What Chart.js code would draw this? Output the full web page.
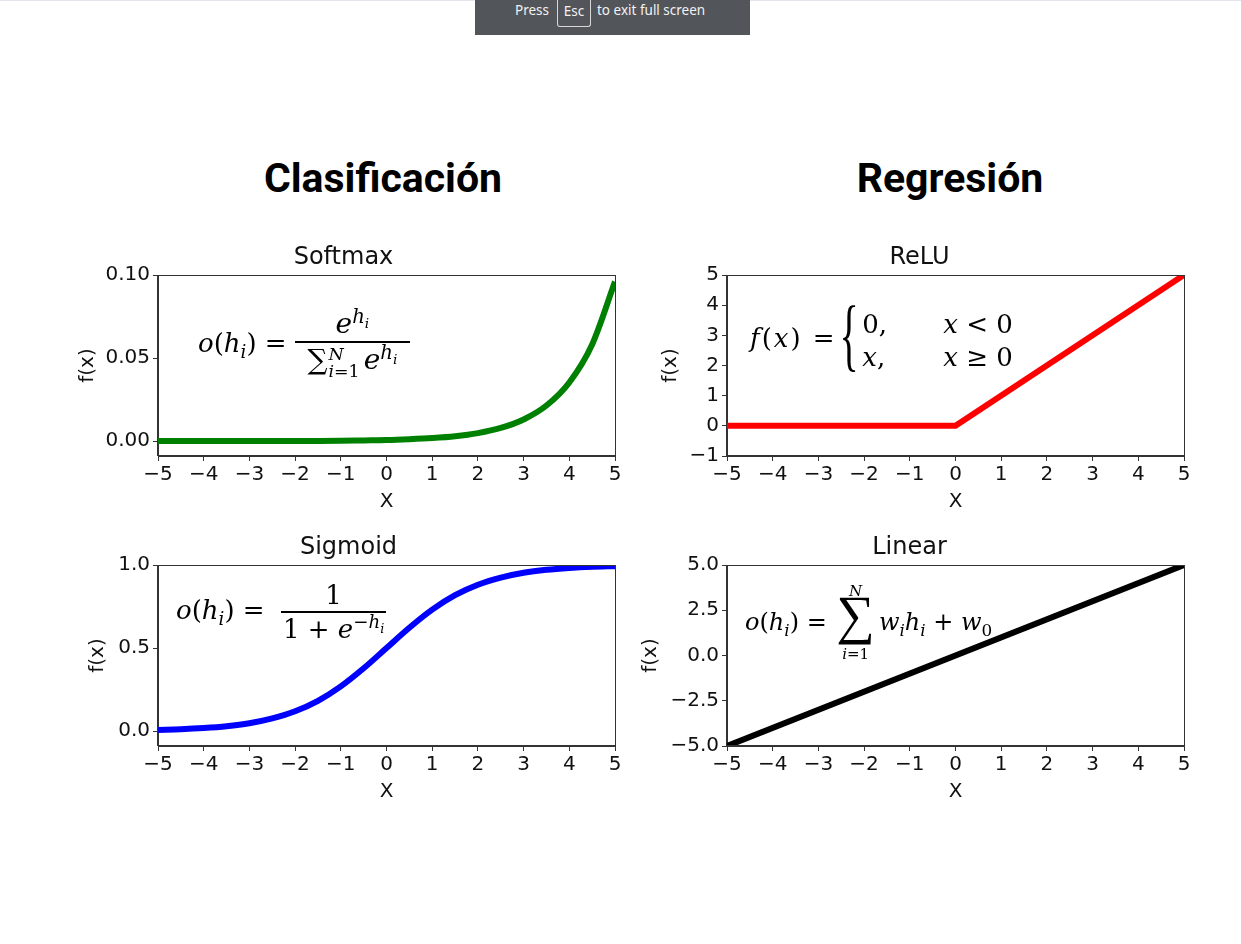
<!DOCTYPE html>
<html lang="es">
<head>
<meta charset="UTF-8">
<title>Funciones de activación</title>
<script src="https://cdn.jsdelivr.net/npm/chart.js"></script>
<style>
  body { margin: 0; width: 1241px; height: 944px; background: #fff; position: relative; overflow: hidden; }
  .topline { position: absolute; left: 0; top: 0; width: 1241px; height: 1px; background: #e3e6ec; }
  .fsbar { position: absolute; left: 475px; top: 0; width: 275px; height: 35px; background: #52555a;
    font-family: "Noto Sans", sans-serif; font-size: 13.5px; color: #f2f2f2; }
  .fsbar span { position: absolute; top: 1px; }
  .fsbar .key { left: 82px; top: 0; width: 32px; height: 26px; border: 1px solid #d8d8d8; border-top: none;
    border-radius: 0 0 3px 3px; text-align: center; line-height: 22px; }
  .head { position: absolute; font-family: Roboto, sans-serif; font-weight: bold; font-size: 41px; color: #000;
    transform: translate(-50%, -50%); white-space: nowrap; }
  .box { position: absolute; }
  .m { position: absolute; font-family: "DejaVu Serif", serif; font-size: 26px; line-height: 1; color: #000; white-space: nowrap; }
  .m i { font-style: italic; }
  .m sub, .m sup { font-size: 0.7em; line-height: 0; }
  .frac { display: inline-flex; flex-direction: column; align-items: center; vertical-align: middle; }
  .frac .n { border-bottom: 2px solid #000; padding: 0 0 3px; align-self: stretch; text-align: center; }
  .frac .d { padding-top: 3px; }
  .lim { display: inline-flex; flex-direction: column; font-size: 0.62em; line-height: 0.95; vertical-align: 9px; margin: 0 4px 0 1px; }
</style>
</head>
<body>
<div class="topline"></div>
<div class="fsbar"><span style="left:40px">Press</span><span class="key">Esc</span><span style="left:122px">to exit full screen</span></div>

<div class="head" style="left:383px; top:178px">Clasificación</div>
<div class="head" style="left:950px; top:178px">Regresión</div>

<div class="box" id="b0"><canvas id="c0"></canvas></div>
<div class="box" id="b1"><canvas id="c1"></canvas></div>
<div class="box" id="b2"><canvas id="c2"></canvas></div>
<div class="box" id="b3"><canvas id="c3"></canvas></div>

<!-- formulas -->
<div class="m" style="left:198px; top:310px"><i>o</i>(<i>h<sub>i</sub></i>) = <span class="frac" style="width:115px; font-size:1.08em"><span class="n"><i>e</i><sup><i>h<sub>i</sub></i></sup></span><span class="d">∑<span class="lim"><i>N</i><span><i>i</i>=1</span></span><i>e</i><sup><i>h<sub>i</sub></i></sup></span></span></div>

<div class="m" style="left:750px; top:294px"><span style="letter-spacing:2px"><i>f</i>(<i>x</i>) =</span> <span style="display:inline-block; font-family:'Liberation Serif'; font-size:80px; transform:scale(0.5,1); vertical-align:-14px; margin:0 -6px 0 -15px">{</span><span style="display:inline-grid; grid-template-columns:81px auto; row-gap:7px; vertical-align:middle"><span>0,</span><span><i>x</i> &lt; 0</span><span><i>x</i>,</span><span><i>x</i> ≥ 0</span></span></div>

<div class="m" style="left:176px; top:582px"><i>o</i>(<i>h<sub>i</sub></i>) =&nbsp; <span class="frac" style="width:105px"><span class="n">1</span><span class="d">1 + <i>e</i><sup>−<i>h<sub>i</sub></i></sup></span></span></div>

<div class="m" style="left:745px; top:584px; font-size:24px"><i>o</i>(<i>h<sub>i</sub></i>) = <span style="display:inline-flex; flex-direction:column; align-items:center; vertical-align:middle; margin:0 4px 0 2px"><i style="font-size:15px; line-height:1">N</i><span style="font-family:'Liberation Serif'; font-size:54px; line-height:44px; height:44px; position:relative; top:-6px">∑</span><span style="font-size:15px; line-height:1.2; margin-top:2px"><i>i</i>=1</span></span><i>w<sub>i</sub>h<sub>i</sub></i> + <i>w</i><sub>0</sub></div>

<script>
// valores
const xTicks = [-5, -4, -3, -2, -1, 0, 1, 2, 3, 4, 5];
const gridX = [-5, -4.5, -4, -3.5, -3, -2.5, -2, -1.5, -1, -0.5, 0, 0.5, 1, 1.5, 2, 2.5, 3, 3.5, 4, 4.5, 5];
const softmaxY = [0.0000, 0.0000, 0.0000, 0.0000, 0.0000, 0.0001, 0.0001, 0.0001, 0.0002, 0.0004, 0.0006,
  0.0011, 0.0018, 0.0029, 0.0048, 0.0079, 0.0130, 0.0214, 0.0353, 0.0582, 0.0960];
const sigmoidY = [0.007, 0.011, 0.018, 0.029, 0.047, 0.076, 0.119, 0.182, 0.269, 0.378, 0.500,
  0.622, 0.731, 0.818, 0.881, 0.924, 0.953, 0.971, 0.982, 0.989, 0.993];
const reluX = [-5, 0, 5];
const reluY = [0, 0, 5];
const linearX = [-5, 5];
const linearY = [-5, 5];
const softmaxTicks = [0, 0.05, 0.10];
const sigmoidTicks = [0, 0.5, 1.0];
const reluTicks = [-1, 0, 1, 2, 3, 4, 5];
const linearTicks = [-5, -2.5, 0, 2.5, 5];

const fmt = (v, d) => (v < 0 ? '\u2212' : '') + Math.abs(v).toFixed(d);

// marco completo (spines de arriba y derecha)
const frame = {
  id: 'frame',
  afterDraw(chart) {
    const a = chart.chartArea, ctx = chart.ctx;
    ctx.save();
    ctx.strokeStyle = '#333';
    ctx.lineWidth = 1;
    ctx.strokeRect(Math.round(a.left) - 0.5, Math.round(a.top) + 0.5,
      Math.round(a.right - a.left) + 1, Math.round(a.bottom - a.top) - 1);
    ctx.restore();
  }
};

const tickFont = { family: 'DejaVu Sans', size: 20, lineHeight: '24px' };
const labFont = { family: 'DejaVu Sans', size: 20, lineHeight: '24px' };

function plot(n, title, xs, ys, color, ymin, ymax, yt, dec, left, top, yw, smooth) {
  const box = document.getElementById('b' + n);
  const w = 457, h = 181;
  // lienzo simétrico para que el título quede centrado sobre el área del gráfico
  box.style.left = (left - yw) + 'px';
  box.style.top = (top - 30) + 'px';
  box.style.width = (yw + w + yw) + 'px';
  box.style.height = (30 + h + 60) + 'px';
  new Chart(document.getElementById('c' + n), {
    type: 'line',
    data: {
      datasets: [{
        data: xs.map((x, i) => ({ x: x, y: ys[i] })),
        borderColor: color,
        borderWidth: 6,
        pointRadius: 0,
        cubicInterpolationMode: smooth ? 'monotone' : 'default',
        tension: 0
      }]
    },
    options: {
      responsive: true,
      maintainAspectRatio: false,
      animation: false,
      events: [],
      layout: { padding: { left: 0, right: yw, top: 0, bottom: 0 } },
      plugins: {
        legend: { display: false },
        tooltip: { enabled: false },
        title: {
          display: true, text: title, color: '#111',
          font: { family: 'DejaVu Sans', size: 24, weight: 'normal', lineHeight: '26px' },
          padding: { top: 0, bottom: 4 }
        }
      },
      scales: {
        x: {
          type: 'linear', min: -5, max: 5,
          afterBuildTicks: s => { s.ticks = xTicks.map(v => ({ value: v })); },
          afterFit: s => { s.height = 60; },
          ticks: { font: tickFont, color: '#111', padding: 2, maxRotation: 0, autoSkip: false, callback: v => fmt(v, 0) },
          grid: { drawOnChartArea: false, drawTicks: true, tickLength: 5, color: '#333' },
          border: { color: '#333', width: 1 },
          title: { display: true, text: 'X', color: '#111', font: labFont, padding: { top: 0, bottom: 2 } }
        },
        y: {
          min: ymin, max: ymax,
          afterBuildTicks: s => { s.ticks = yt.map(v => ({ value: v })); },
          afterFit: s => { s.width = yw; },
          ticks: { font: tickFont, color: '#111', padding: 3, callback: v => fmt(v, dec) },
          grid: { drawOnChartArea: false, drawTicks: true, tickLength: 5, color: '#333' },
          border: { color: '#333', width: 1 },
          title: { display: true, text: 'f(x)', color: '#111', font: labFont, padding: { top: 4, bottom: 0 } }
        }
      }
    },
    plugins: [frame]
  });
}

plot(0, 'Softmax', gridX, softmaxY, '#008000', -0.009, 0.10, softmaxTicks, 2, 158, 275, 86, true);
plot(1, 'ReLU', reluX, reluY, '#ff0000', -1, 5, reluTicks, 0, 727, 275, 72, false);
plot(2, 'Sigmoid', gridX, sigmoidY, '#0000ff', -0.09, 1.0, sigmoidTicks, 1, 158, 565, 76, true);
plot(3, 'Linear', linearX, linearY, '#000000', -5, 5, linearTicks, 1, 727, 565, 92, false);
</script>
</body>
</html>
